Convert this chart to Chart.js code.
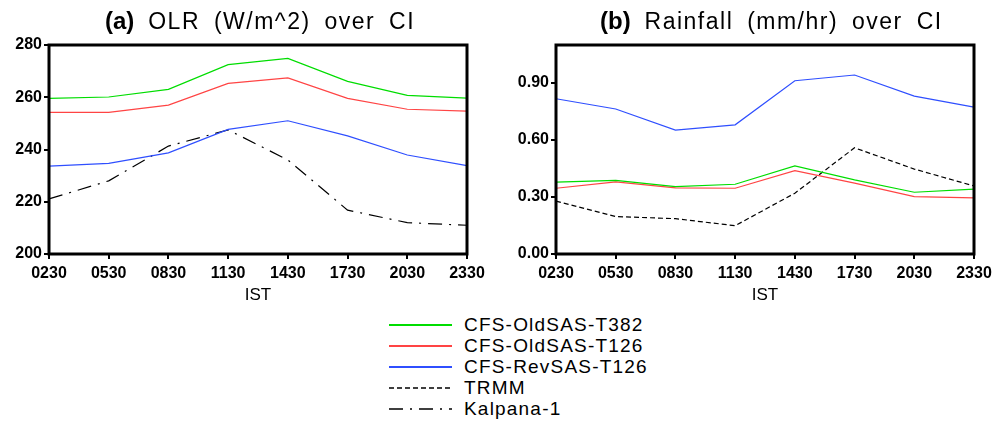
<!DOCTYPE html>
<html>
<head>
<meta charset="utf-8">
<script src="https://cdn.jsdelivr.net/npm/chart.js@4.4.0/dist/chart.umd.min.js"></script>
<style>
  body { margin: 0; background: #fff; font-family: "Liberation Sans", Arial, sans-serif; }
  #wrap { position: relative; width: 1003px; height: 421px; overflow: hidden; }
  .box { position: absolute; top: 0; height: 310px; }
  .title { position: absolute; top: 7px; font-size: 23px; letter-spacing: 1.5px; word-spacing: 6px; white-space: nowrap; }
  .title b { font-size: 24px; letter-spacing: 0; }
  #legend { position: absolute; left: 388px; top: 314px; font-size: 19px; letter-spacing: 1.2px; }
  .row { height: 21px; display: flex; align-items: center; }
  .row svg { margin-right: 12px; }
</style>
</head>
<body>
<div id="wrap">
  <div class="box" style="left:0;width:500px"><canvas id="olrChart"></canvas></div>
  <div class="box" style="left:500px;width:503px"><canvas id="rainChart"></canvas></div>
  <div class="title" id="titleA" style="left:105px"><b>(a)</b> OLR (W/m^2) over CI</div>
  <div class="title" id="titleB" style="left:600px"><b>(b)</b> Rainfall (mm/hr) over CI</div>
  <div id="legend"></div>
</div>
<script>
// time of day (IST)
const hours = ["0230", "0530", "0830", "1130", "1430", "1730", "2030", "2330"];

// series names
const seriesNames = ["CFS-OldSAS-T382", "CFS-OldSAS-T126", "CFS-RevSAS-T126", "TRMM", "Kalpana-1"];

// OLR (W/m^2)
const olrT382 = [259.6, 260.1, 263.0, 272.5, 274.9, 266.1, 260.7, 259.7];
const olrOldT126 = [254.2, 254.2, 257.0, 265.3, 267.4, 259.6, 255.4, 254.7];
const olrRevT126 = [233.6, 234.7, 238.7, 247.7, 251.0, 245.2, 237.9, 233.8];
const olrKalpana = [221.1, 228.0, 241.3, 247.5, 236.0, 216.8, 212.0, 211.0];

// Rainfall (mm/hr)
const rainT382 = [0.378, 0.388, 0.355, 0.367, 0.464, 0.390, 0.325, 0.341];
const rainOldT126 = [0.346, 0.380, 0.348, 0.346, 0.439, 0.373, 0.302, 0.295];
const rainRevT126 = [0.817, 0.763, 0.652, 0.680, 0.912, 0.942, 0.831, 0.773];
const rainTrmm = [0.278, 0.197, 0.186, 0.149, 0.320, 0.559, 0.447, 0.358];

// y tick labels
const olrTicks = [200, 220, 240, 260, 280];
const rainTicks = [0.0, 0.3, 0.6, 0.9];

const styles = [
    { color: "#00dd00", dash: [] },
    { color: "#ff4444", dash: [] },
    { color: "#2f4fff", dash: [] },
    { color: "#000000", dash: [5, 3] },
    { color: "#000000", dash: [14, 7, 2, 7] }
];

function make_dataset(idx, data) {
    return {
        label: seriesNames[idx],
        data: data,
        borderColor: styles[idx].color,
        borderDash: styles[idx].dash,
        borderWidth: 1.2,
        pointRadius: 0,
        tension: 0,
        fill: false
    };
}

// thick frame around the plot area
const framePlugin = {
    id: "frame",
    afterDraw(chart) {
        const a = chart.chartArea;
        const ctx = chart.ctx;
        ctx.save();
        ctx.strokeStyle = "#000";
        ctx.lineWidth = 3;
        ctx.strokeRect(a.left, a.top, a.right - a.left, a.bottom - a.top);
        ctx.restore();
    }
};

function build_config(datasets, yMin, yMax, ticks, fmt, yWidth, padRight) {
    const tickFont = { family: "Liberation Sans", size: 16, weight: "bold" };
    return {
        type: "line",
        data: { labels: hours, datasets: datasets },
        plugins: [framePlugin],
        options: {
            responsive: false,
            animation: false,
            layout: { padding: { left: 0, right: padRight, top: 45, bottom: 0 } },
            plugins: { legend: { display: false }, tooltip: { enabled: false } },
            scales: {
                x: {
                    offset: false,
                    grid: { display: true, drawOnChartArea: false, color: "#000", lineWidth: 2, tickLength: 5 },
                    border: { display: false },
                    ticks: { color: "#000", font: tickFont, maxRotation: 0, autoSkip: false, padding: 5 },
                    title: { display: true, text: "IST", color: "#000", font: { family: "Liberation Sans", size: 17 }, padding: { top: 8 } },
                    afterFit: (s) => { s.height = 56; }
                },
                y: {
                    min: yMin,
                    max: yMax,
                    afterBuildTicks: (s) => { s.ticks = ticks.map(v => ({ value: v })); },
                    grid: { display: true, drawOnChartArea: false, color: "#000", lineWidth: 2, tickLength: 5 },
                    border: { display: false },
                    ticks: { color: "#000", font: tickFont, padding: 2, callback: fmt },
                    afterFit: (s) => { s.width = yWidth; }
                }
            }
        }
    };
}

const olrCanvas = document.getElementById("olrChart");
olrCanvas.width = 500; olrCanvas.height = 310;
new Chart(olrCanvas, build_config(
    [make_dataset(0, olrT382), make_dataset(1, olrOldT126), make_dataset(2, olrRevT126), make_dataset(4, olrKalpana)],
    200, 280, olrTicks, (v) => v.toFixed(0), 49, 33));

const rainCanvas = document.getElementById("rainChart");
rainCanvas.width = 503; rainCanvas.height = 310;
new Chart(rainCanvas, build_config(
    [make_dataset(0, rainT382), make_dataset(1, rainOldT126), make_dataset(2, rainRevT126), make_dataset(3, rainTrmm)],
    0, 1.1, rainTicks, (v) => v.toFixed(2), 56, 29));

// legend rows
const legend = document.getElementById("legend");
seriesNames.forEach((name, i) => {
    const row = document.createElement("div");
    row.className = "row";
    const dash = styles[i].dash.length ? ` stroke-dasharray="${styles[i].dash.join(",")}"` : "";
    row.innerHTML = `<svg width="64" height="6"><line x1="1" y1="3" x2="64" y2="3" stroke="${styles[i].color}" stroke-width="${i < 3 ? 2 : 1.5}"${dash}/></svg><span>${name}</span>`;
    legend.appendChild(row);
});
</script>
</body>
</html>
